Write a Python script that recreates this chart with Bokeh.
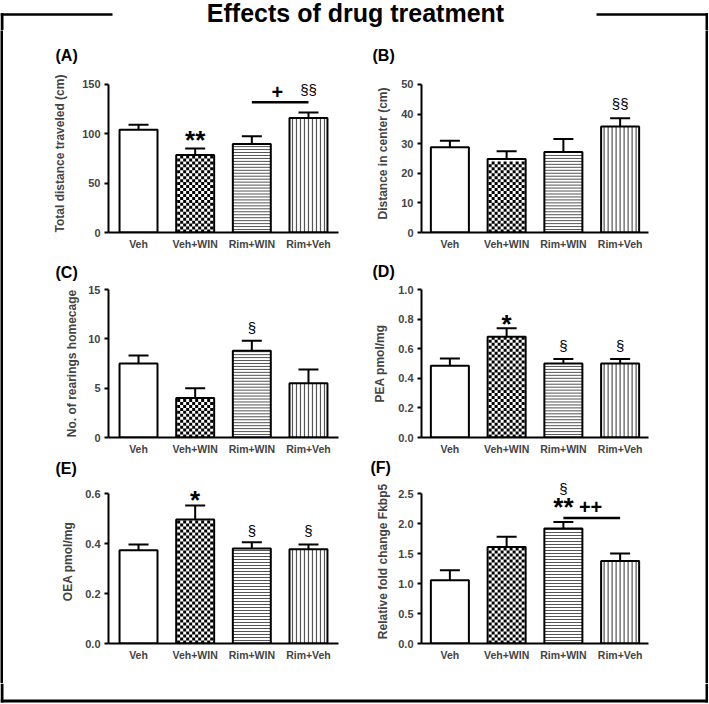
from bokeh.plotting import figure
from bokeh.models import (FactorRange, Range1d, ColumnDataSource, Whisker, TeeHead,
                          FixedTicker, NumeralTickFormatter)
from bokeh.layouts import row, column
from bokeh.core.properties import value
from bokeh.embed import file_html
from bokeh.resources import INLINE

FONT = "Liberation Sans"

# ---------------- data ----------------
groups = ["Veh", "Veh+WIN", "Rim+WIN", "Rim+Veh"]

a_mean = [104.0, 78.5, 89.5, 116.0]
a_sem = [5.0, 6.5, 8.0, 5.5]
b_mean = [28.8, 24.8, 27.2, 35.8]
b_sem = [2.2, 2.6, 4.4, 2.8]
c_mean = [7.5, 4.0, 8.8, 5.5]
c_sem = [0.8, 1.0, 1.0, 1.4]
d_mean = [0.485, 0.68, 0.50, 0.50]
d_sem = [0.048, 0.058, 0.03, 0.03]
e_mean = [0.373, 0.496, 0.38, 0.377]
e_sem = [0.023, 0.056, 0.025, 0.019]
f_mean = [1.055, 1.61, 1.917, 1.377]
f_sem = [0.165, 0.17, 0.11, 0.123]

a_ticks = [0, 50, 100, 150]
b_ticks = [0, 10, 20, 30, 40, 50]
c_ticks = [0, 5, 10, 15]
d_ticks = [0.0, 0.2, 0.4, 0.6, 0.8, 1.0]
e_ticks = [0.0, 0.2, 0.4, 0.6]
f_ticks = [0.0, 0.5, 1.0, 1.5, 2.0, 2.5]

panel_tags = ["(A)", "(B)", "(C)", "(D)", "(E)", "(F)"]
y_labels = ["Total distance traveled (cm)", "Distance in center (cm)",
            "No. of rearings homecage", "PEA pmol/mg", "OEA pmol/mg",
            "Relative fold change Fkbp5"]

# significance marks: text, group, offset (category units), y value
a_marks = [("**", "Veh+WIN", 0.0, 94), ("+", "Rim+WIN", 0.45, 142), ("§§", "Rim+Veh", 0.0, 145)]
b_marks = [("§§", "Rim+Veh", 0.0, 43.7)]
c_marks = [("§", "Rim+WIN", 0.0, 11.1)]
d_marks = [("*", "Veh+WIN", 0.0, 0.77), ("§", "Rim+WIN", 0.0, 0.62), ("§", "Rim+Veh", 0.0, 0.62)]
e_marks = [("*", "Veh+WIN", 0.0, 0.574), ("§", "Rim+WIN", 0.0, 0.453), ("§", "Rim+Veh", 0.0, 0.453)]
f_marks = [("§", "Rim+WIN", 0.0, 2.58), ("**", "Rim+WIN", 0.0, 2.28), ("++", "Rim+WIN", 0.48, 2.27)]

# comparison bars: from group, to group, y value
a_lines = [("Rim+WIN", "Rim+Veh", 132)]
f_lines = [("Rim+WIN", "Rim+Veh", 2.09)]

means = [a_mean, b_mean, c_mean, d_mean, e_mean, f_mean]
sems = [a_sem, b_sem, c_sem, d_sem, e_sem, f_sem]
ticks = [a_ticks, b_ticks, c_ticks, d_ticks, e_ticks, f_ticks]
marks = [a_marks, b_marks, c_marks, d_marks, e_marks, f_marks]
lines = [a_lines, [], [], [], [], f_lines]
fmts = ["0", "0", "0", "0.0", "0.0", "0.0"]

# ---------------- layout constants (pixels) ----------------
FRAME_H = 150
HW = 0.335                      # half bar width, category units
HATCH = "#555555"
BAR_W = 3
TOTAL_W = 708
HEAD_H = 30
FOOT_H = 20
panel_top = [4, 4, 8, 8, 0, 0]
panel_bottom = [18, 18, 18, 18, 40, 40]
head_room = [10, 10, 0, 0, 14, 14]   # extra px above the top tick (room for marks)
label_standoff = [12, 8, 6, 8, 7, 5]
tag_rows = [(30, 70), (252, 281), (457, 479)]     # page y extents of the tag strips
tag_x = [55, 372, 55, 372, 55, 370]
tag_y = [55, 55, 272, 271, 468, 467]


def mark_style(t):
    if "*" in t:
        return dict(text_font_size="26px", text_font_style="bold")
    if "+" in t:
        return dict(text_font_size="20px", text_font_style="bold")
    return dict(text_font_size="15px", text_font_style="normal")


def add_bar(p, j, g, top, ppx, ppy):
    p.vbar(x=[g], top=[top], width=2 * HW, fill_color="white", line_color=None)
    h_px = top * ppy
    if j == 1:      # checkerboard
        xs, ys = [], []
        for r in range(int(h_px // 3)):
            for c in range(12):
                if (r + c) % 2 == 0:
                    xs.append((g, (c - 5.5) * 3 / ppx))
                    ys.append((r + 0.5) * 3 / ppy)
        p.rect(x=xs, y=ys, width=3, height=3, width_units="screen",
               height_units="screen", fill_color="black", line_color=None)
    elif j == 2:    # horizontal lines
        n = int((h_px - 1) // 3)
        ys = [k * 3 / ppy for k in range(1, n + 1)]
        p.segment(x0=[(g, -HW)] * n, x1=[(g, HW)] * n, y0=ys, y1=ys,
                  line_width=1, line_color=HATCH)
    elif j == 3:    # vertical lines
        offs = [k * 4 / ppx for k in range(-4, 5)]
        xx = [(g, o) for o in offs]
        p.segment(x0=xx, x1=xx, y0=[0] * len(xx), y1=[top] * len(xx),
                  line_width=1.2, line_color=HATCH)
    p.vbar(x=[g], top=[top], width=2 * HW, fill_color=None,
           line_color="black", line_width=2)


def make_panel(i):
    left = (i % 2 == 0)
    if left:
        mbl, fw, mbr, pad = 105, 230, 24, 0.015
    else:
        mbl, fw, mbr, pad = 59, 227, 57, 0.0
    ncat = len(groups)
    ppx = fw / (ncat * (1 + pad))
    tk = ticks[i]
    ymax = tk[-1]
    ppy = FRAME_H / ymax
    extra = head_room[i]
    top = panel_top[i]
    bottom = panel_bottom[i]
    p = figure(width=mbl + fw + mbr, height=top + FRAME_H + extra + bottom,
               x_range=FactorRange(factors=groups, range_padding=pad),
               y_range=Range1d(0, ymax + extra / ppy),
               output_backend="svg", toolbar_location=None,
               min_border_left=mbl, min_border_right=mbr,
               min_border_top=top, min_border_bottom=bottom)
    p.outline_line_color = None
    p.xgrid.grid_line_color = None
    p.ygrid.grid_line_color = None

    m, s = means[i], sems[i]
    upper = [a + b for a, b in zip(m, s)]
    src = ColumnDataSource(dict(x=groups, top=m, upper=upper))
    w = Whisker(source=src, base="x", lower="top", upper="upper", dimension="height",
                line_width=2, line_color="black",
                upper_head=TeeHead(size=20, line_width=2, line_color="black"),
                lower_head=None)
    p.add_layout(w)
    for j in range(ncat):
        add_bar(p, j, groups[j], m[j], ppx, ppy)

    for (g0, g1, yv) in lines[i]:
        p.segment(x0=[(g0, 0.0)], y0=[yv], x1=[(g1, 0.0)], y1=[yv],
                  line_width=2.5, line_color="black")
    for (t, g, off, yv) in marks[i]:
        p.text(x=[(g, off)], y=[yv], text=[t], text_align="center",
               text_baseline="middle", text_color="black",
               text_font=value(FONT), **mark_style(t))

    ya = p.yaxis[0]
    ya.ticker = FixedTicker(ticks=tk)
    ya.bounds = (0, ymax)
    ya.formatter = NumeralTickFormatter(format=fmts[i])
    ya.axis_label = y_labels[i]
    ya.axis_label_text_font = FONT
    ya.axis_label_text_font_size = "12px"
    ya.axis_label_text_font_style = "bold"
    ya.axis_label_standoff = label_standoff[i]
    ya.major_label_text_font = FONT
    ya.major_label_text_font_size = "11px"
    ya.major_label_text_font_style = "bold"
    ya.major_label_standoff = 4
    ya.major_tick_out = 4
    ya.major_tick_in = 0
    ya.minor_tick_line_color = None
    ya.axis_line_width = 2
    ya.major_tick_line_width = 2

    xa = p.xaxis[0]
    xa.major_tick_line_color = None
    xa.major_tick_out = 0
    xa.major_tick_in = 0
    xa.major_label_standoff = 5
    xa.major_label_text_font = FONT
    xa.major_label_text_font_size = "10.5px"
    xa.major_label_text_font_style = "bold"
    xa.axis_line_width = 2
    xa.major_label_orientation = "horizontal"
    return p


def blank(w, h, xr, yr, bg="white"):
    f = figure(width=w, height=h, x_range=xr, y_range=yr, output_backend="svg",
               toolbar_location=None, min_border=0, x_axis_type=None,
               y_axis_type=None, outline_line_color=None,
               background_fill_color=bg, border_fill_color=bg)
    f.xgrid.grid_line_color = None
    f.ygrid.grid_line_color = None
    return f


def tag_strip(k):
    y0, y1 = tag_rows[k]
    f = blank(TOTAL_W - 2 * BAR_W, y1 - y0, Range1d(BAR_W, TOTAL_W - BAR_W), Range1d(y1, y0))
    idx = [2 * k, 2 * k + 1]
    f.text(x=[tag_x[i] for i in idx], y=[tag_y[i] for i in idx],
           text=[panel_tags[i] for i in idx], text_align="left", text_baseline="middle",
           text_font=value(FONT), text_font_size="16px", text_font_style="bold",
           text_color="black")
    return f


panels = [make_panel(i) for i in range(6)]
strips = [tag_strip(k) for k in range(3)]

inner = column(strips[0], row(panels[0], panels[1]),
               strips[1], row(panels[2], panels[3]),
               strips[2], row(panels[4], panels[5]))
body_h = sum(b - a for a, b in tag_rows) + sum(
    panel_top[2 * k] + FRAME_H + head_room[2 * k] + panel_bottom[2 * k] for k in range(3))

# header: title interrupting the top frame line
header = blank(TOTAL_W, HEAD_H, Range1d(0, TOTAL_W), Range1d(HEAD_H, 0))
header.segment(x0=[0, 596], y0=[14, 14], x1=[112, TOTAL_W], y1=[14, 14],
               line_width=2.5, line_color="black")
header.quad(left=[0, TOTAL_W - BAR_W], right=[BAR_W, TOTAL_W], top=[12.8, 12.8],
            bottom=[HEAD_H, HEAD_H], fill_color="black", line_color=None)
header.text(x=[355], y=[12.5], text=["Effects of drug treatment"], text_align="center",
            text_baseline="middle", text_font=value(FONT), text_font_size="25px",
            text_font_style="bold", text_color="black")

# footer: bottom frame line
footer = blank(TOTAL_W, FOOT_H, Range1d(0, TOTAL_W), Range1d(FOOT_H, 0))
footer.quad(left=[0, TOTAL_W - BAR_W, 0], right=[BAR_W, TOTAL_W, TOTAL_W],
            top=[0, 0, FOOT_H - 4], bottom=[FOOT_H - 1, FOOT_H - 1, FOOT_H - 1],
            fill_color="black", line_color=None)

left_bar = blank(BAR_W, body_h, Range1d(0, 1), Range1d(0, 1), bg="black")
right_bar = blank(BAR_W, body_h, Range1d(0, 1), Range1d(0, 1), bg="black")

page = column(header, row(left_bar, inner, right_bar), footer)

open("out.html", "w").write(file_html(page, INLINE))
